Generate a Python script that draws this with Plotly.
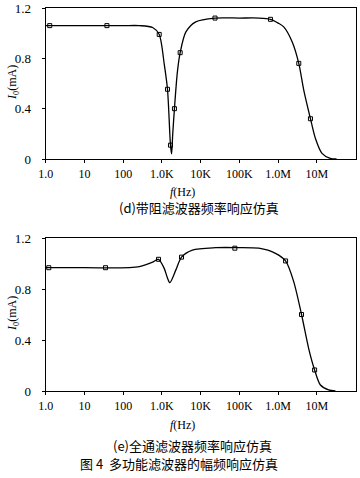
import plotly.graph_objects as go

# Band-stop (d)
bs_f = [1.0, 10, 100, 262, 575, 850, 1150, 1390, 1660, 1770, 1900, 2100, 2500, 2950, 4150, 7460,
        23400, 100000, 316000, 632000, 1000000, 1390000, 2300000, 3400000, 4550000, 6800000,
        9100000, 13500000, 22000000, 32000000]
bs_i = [1.06, 1.06, 1.06, 1.06, 1.045, 0.99, 0.75, 0.554, 0.11, 0.04, 0.2, 0.40, 0.69, 0.845, 1.01, 1.09,
        1.12, 1.12, 1.12, 1.11, 1.08, 1.05, 0.93, 0.76, 0.55, 0.32, 0.165, 0.045, 0.005, 0.0]
bs_mf = [1.27, 38, 850, 1390, 1660, 2100, 2950, 23400, 632000, 3400000, 6800000]
bs_mi = [1.06, 1.06, 0.99, 0.554, 0.11, 0.40, 0.845, 1.12, 1.11, 0.76, 0.32]

# All-pass (e)
ap_f = [1.0, 10, 145, 262, 575, 815, 1150, 1390, 1600, 2290, 3200, 6100, 24500, 76000, 316000,
        850000, 1550000, 2500000, 4000000, 6100000, 8700000, 12300000, 20000000, 30000000]
ap_i = [0.967, 0.967, 0.967, 0.975, 1.01, 1.033, 0.96, 0.886, 0.85, 0.95, 1.05, 1.105, 1.124, 1.125, 1.12,
        1.08, 1.02, 0.86, 0.60, 0.335, 0.165, 0.047, 0.008, 0.0]
ap_mf = [1.2, 35, 815, 3200, 76000, 1550000, 4000000, 8700000]
ap_mi = [0.967, 0.967, 1.033, 1.05, 1.12, 1.02, 0.60, 0.165]

x_tickvals = [1, 10, 100, 1000, 1e4, 1e5, 1e6, 1e7]
x_ticktext = ["1.0", "10", "100", "1.0K", "10K", "100K", "1.0M", "10M"]
y_tickvals = [0, 0.4, 0.8, 1.2]
y_ticktext = ["0", "0.4", "0.8", "1.2"]

W, H = 360, 478
fig = go.Figure()

line = dict(color="black", width=1.3, shape="spline", smoothing=0.8)
mk = dict(symbol="square-open", size=4, color="black", line=dict(width=1, color="black"))

fig.add_trace(go.Scatter(x=bs_f, y=bs_i, mode="lines", line=line, xaxis="x", yaxis="y", hoverinfo="skip"))
fig.add_trace(go.Scatter(x=bs_mf, y=bs_mi, mode="markers", marker=mk, xaxis="x", yaxis="y"))
fig.add_trace(go.Scatter(x=ap_f, y=ap_i, mode="lines", line=line, xaxis="x2", yaxis="y2", hoverinfo="skip"))
fig.add_trace(go.Scatter(x=ap_mf, y=ap_mi, mode="markers", marker=mk, xaxis="x2", yaxis="y2"))

serif = "Liberation Serif, Times New Roman, serif"
xdom = [45.7 / W, 355.7 / W]

def xax(anchor):
    return dict(type="log", range=[0, 8], domain=xdom, anchor=anchor,
                tickvals=x_tickvals, ticktext=x_ticktext, ticks="outside", ticklen=3,
                tickwidth=1, tickcolor="black", showline=True, linecolor="black", linewidth=1.3,
                mirror=True, showgrid=False, zeroline=False, automargin=False,
                tickfont=dict(family=serif, size=12, color="black"))

def yax(anchor, dom):
    return dict(range=[0, 1.2], domain=dom, anchor=anchor,
                tickvals=y_tickvals, ticktext=y_ticktext, ticks="outside", ticklen=3,
                tickwidth=1, tickcolor="black", showline=True, linecolor="black", linewidth=1.3,
                mirror=True, showgrid=False, zeroline=False, ticklabelstandoff=8, automargin=False,
                tickfont=dict(family=serif, size=13, color="black"))

fig.update_layout(
    width=W, height=H, margin=dict(l=0, r=0, t=0, b=0, pad=0, autoexpand=False),
    paper_bgcolor="white", plot_bgcolor="white", showlegend=False,
    xaxis=xax("y"), yaxis=yax("x", [1 - 159 / H, 1 - 8 / H]),
    xaxis2=xax("y2"), yaxis2=yax("x2", [1 - 391 / H, 1 - 238 / H]),
)

def ann(text, px, py, size, family=serif, angle=0):
    fig.add_annotation(text=text, x=px / W, y=1 - py / H, xref="paper", yref="paper",
                       showarrow=False, textangle=angle, xanchor="center", yanchor="middle",
                       font=dict(family=family, size=size, color="black"))

cjk = "Noto Sans CJK SC"
ann("<i>I</i><sub>0</sub>(mA)", 13, 82, 12, angle=-90)
ann("<i>I</i><sub>0</sub>(mA)", 13, 313, 12, angle=-90)
ann("<i>f</i>(Hz)", 182, 192, 12)
ann("<i>f</i>(Hz)", 182, 425, 12)
ann("(d)带阻滤波器频率响应仿真", 199, 207, 13, family=cjk)
ann("(e)全通滤波器频率响应仿真", 192, 445, 13, family=cjk)
ann("图 4  多功能滤波器的幅频响应仿真", 179, 463, 13, family=cjk)

fig.write_html("out.html", config={"displayModeBar": False},
               post_script="document.body.style.margin='0px';document.body.style.overflow='hidden';")
